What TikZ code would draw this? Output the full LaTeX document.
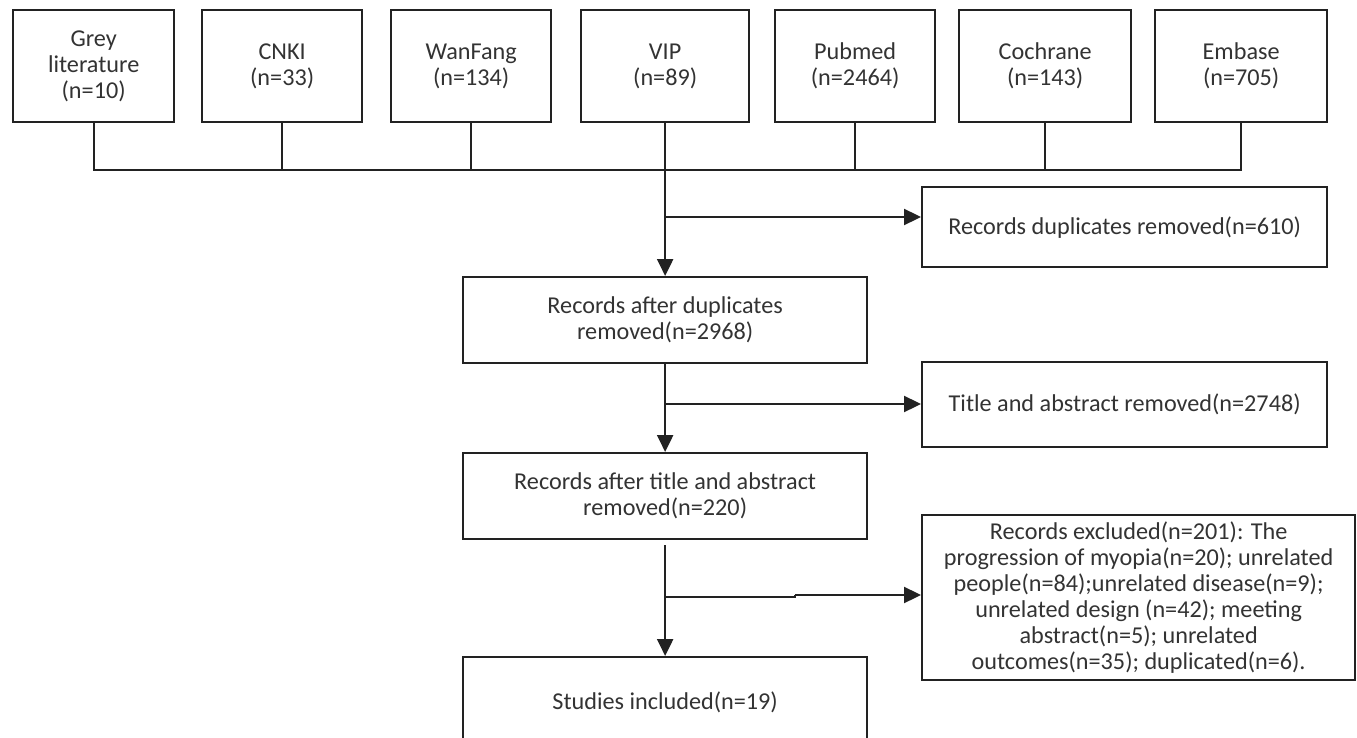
\documentclass[tikz,border=0pt]{standalone}
\usepackage{fontspec}
\setmainfont{Carlito}
\usetikzlibrary{arrows.meta}
\definecolor{ln}{HTML}{222222}
\definecolor{tx}{HTML}{333333}
\begin{document}
\begin{tikzpicture}[x=1pt,y=-1pt,
  box/.style={draw=ln,line width=2.3pt,anchor=north west,align=center,text=tx,
    inner sep=2pt,font=\fontsize{24.2}{26}\selectfont},
  lnk/.style={draw=ln,line width=2.3pt},
  arr/.style={draw=ln,line width=2.3pt,-{Triangle[length=17pt,width=16pt]}}]
\clip (0,0) rectangle (1357,738);
\useasboundingbox (0,0) rectangle (1357,738);
\fill[white] (0,0) rectangle (1357,738);
% top sources
\node[box,minimum width=161pt,minimum height=112pt] (grey) at (12,9) {Grey\\literature\\(n=10)};
\node[box,minimum width=160pt,minimum height=112pt] (cnki) at (201,9) {CNKI\\(n=33)};
\node[box,minimum width=160pt,minimum height=112pt] (wanfang) at (390,9) {WanFang\\(n=134)};
\node[box,minimum width=168pt,minimum height=112pt] (vip) at (580,9) {VIP\\(n=89)};
\node[box,minimum width=160pt,minimum height=112pt] (pubmed) at (774,9) {Pubmed\\(n=2464)};
\node[box,minimum width=172pt,minimum height=112pt] (cochrane) at (958,9) {Cochrane\\(n=143)};
\node[box,minimum width=172pt,minimum height=112pt] (embase) at (1154,9) {Embase\\(n=705)};
% flow boxes
\node[box,minimum width=405pt,minimum height=80pt] (dup) at (921,186) {Records duplicates removed(n=610)};
\node[box,minimum width=404pt,minimum height=86pt] (after) at (462,276) {Records after duplicates\\removed(n=2968)};
\node[box,minimum width=405pt,minimum height=85pt] (title) at (921,361) {Title and abstract removed(n=2748)};
\node[box,minimum width=404pt,minimum height=86pt] (aftert) at (462,452) {Records after title and abstract\\removed(n=220)};
\node[box,minimum width=433pt,minimum height=165pt] (excl) at (921,514) {Records excluded(n=201): The\\progression of myopia(n=20); unrelated\\people(n=84);unrelated disease(n=9);\\unrelated design (n=42); meeting\\abstract(n=5); unrelated\\outcomes(n=35); duplicated(n=6).};
\node[box,minimum width=404pt,minimum height=90pt] (studies) at (462,656) {Studies included(n=19)};
% bus
\coordinate (bus) at (0,170);
\draw[lnk] (grey.south) -- (grey.south |- bus) -- (embase.south |- bus) -- (embase.south);
\draw[lnk] (cnki.south) -- (cnki.south |- bus);
\draw[lnk] (wanfang.south) -- (wanfang.south |- bus);
\draw[lnk] (pubmed.south) -- (pubmed.south |- bus);
\draw[lnk] (cochrane.south) -- (cochrane.south |- bus);
% main flow
\draw[arr] (vip.south) -- (after.north);
\coordinate (b1) at (664,217);
\draw[arr] (b1) -- (b1 -| dup.west);
\draw[arr] (after.south) -- (aftert.north);
\coordinate (b2) at (664,404);
\draw[arr] (b2) -- (b2 -| title.west);
\draw[arr] ([yshift=-5pt]aftert.south) -- (studies.north);
\coordinate (b3) at (664,597);
\coordinate (j3) at (795,597);
\coordinate (k3) at (795,595);
\draw[lnk] (b3) -- (j3) -- (k3);
\draw[arr] (k3) -- (k3 -| excl.west);
\end{tikzpicture}
\end{document}
